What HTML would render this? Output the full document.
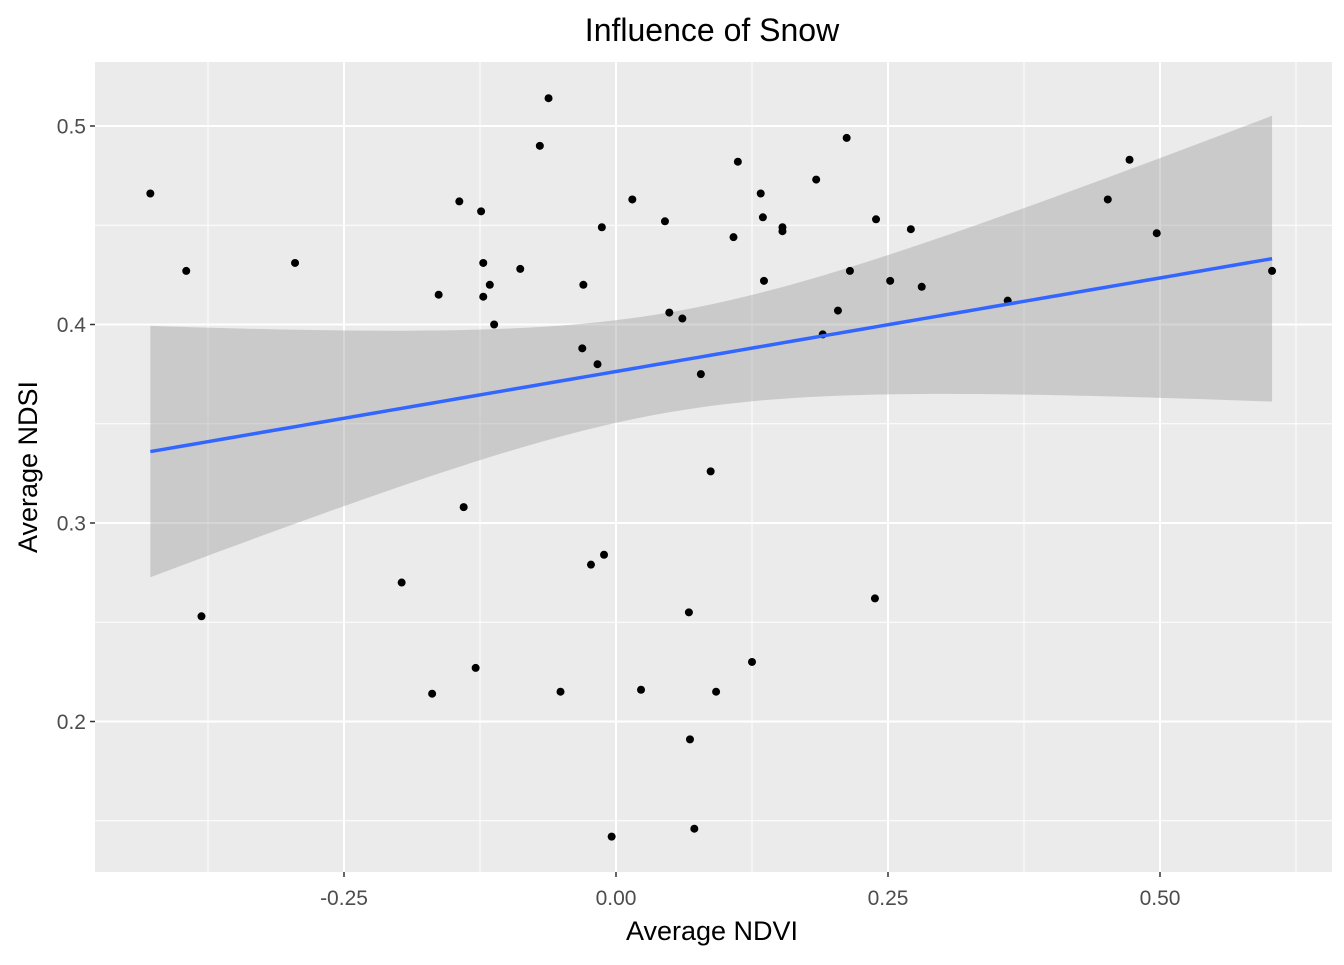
<!DOCTYPE html>
<html><head><meta charset="utf-8">
<style>
html,body{margin:0;padding:0;background:#fff;}
svg text{font-family:"Liberation Sans",Arial,sans-serif;}
</style></head>
<body>
<svg id="chart" width="1344" height="960" xmlns="http://www.w3.org/2000/svg"></svg>
<script>
const ndvi=[-0.428,-0.395,-0.381,-0.295,-0.197,-0.169,-0.163,-0.144,-0.140,-0.129,-0.124,-0.122,-0.122,-0.116,-0.112,-0.088,-0.070,-0.062,-0.051,-0.031,-0.030,-0.023,-0.017,-0.013,-0.011,-0.004,0.015,0.023,0.045,0.049,0.061,0.067,0.068,0.072,0.078,0.087,0.092,0.108,0.112,0.125,0.133,0.135,0.136,0.153,0.153,0.184,0.190,0.204,0.212,0.215,0.238,0.239,0.252,0.271,0.281,0.360,0.452,0.472,0.497,0.603];
const ndsi=[0.466,0.427,0.253,0.431,0.270,0.214,0.415,0.462,0.308,0.227,0.457,0.431,0.414,0.420,0.400,0.428,0.490,0.514,0.215,0.388,0.420,0.279,0.380,0.449,0.284,0.142,0.463,0.216,0.452,0.406,0.403,0.255,0.191,0.146,0.375,0.326,0.215,0.444,0.482,0.230,0.466,0.454,0.422,0.449,0.447,0.473,0.395,0.407,0.494,0.427,0.262,0.453,0.422,0.448,0.419,0.412,0.463,0.483,0.446,0.427];
const xTicks=[-0.25,0,0.25,0.5];
const xTickLabels=["-0.25","0.00","0.25","0.50"];
const xMinor=[-0.375,-0.125,0.125,0.375,0.625];
const yTicks=[0.2,0.3,0.4,0.5];
const yTickLabels=["0.2","0.3","0.4","0.5"];
const yMinor=[0.15,0.25,0.35,0.45];

const NS="http://www.w3.org/2000/svg";
const svg=document.getElementById('chart');
const P={l:95,r:1332,t:62,b:872};
const X=v=>616+v*1088;
const Y=v=>126+(0.5-v)*1985;
function el(tag,attrs,parent){const e=document.createElementNS(NS,tag);for(const k in attrs)e.setAttribute(k,attrs[k]);(parent||svg).appendChild(e);return e;}

const bg=el('rect',{x:P.l,y:P.t,width:P.r-P.l,height:P.b-P.t,fill:'#ebebeb'});



const grid=el('g',{});


xMinor.forEach(v=>{if(X(v)<P.r)el('line',{x1:X(v),x2:X(v),y1:P.t,y2:P.b,stroke:'#fff','stroke-width':1},grid);});
yMinor.forEach(v=>el('line',{x1:P.l,x2:P.r,y1:Y(v),y2:Y(v),stroke:'#fff','stroke-width':1},grid));
xTicks.forEach(v=>el('line',{x1:X(v),x2:X(v),y1:P.t,y2:P.b,stroke:'#fff','stroke-width':2},grid));
yTicks.forEach(v=>el('line',{x1:P.l,x2:P.r,y1:Y(v),y2:Y(v),stroke:'#fff','stroke-width':2},grid));

const n=ndvi.length;
const mx=ndvi.reduce((a,b)=>a+b,0)/n, my=ndsi.reduce((a,b)=>a+b,0)/n;
let sxx=0,sxy=0;for(let i=0;i<n;i++){sxx+=(ndvi[i]-mx)**2;sxy+=(ndvi[i]-mx)*(ndsi[i]-my);}
const b1=sxy/sxx,b0=my-b1*mx;
let sse=0;for(let i=0;i<n;i++)sse+=(ndsi[i]-b0-b1*ndvi[i])**2;
const s=Math.sqrt(sse/(n-2)),t=2.0;
const xmin=Math.min(...ndvi),xmax=Math.max(...ndvi);
const up=[],lo=[],ln=[];
for(let k=0;k<=80;k++){const x=xmin+(xmax-xmin)*k/80;const f=b0+b1*x;const se=s*Math.sqrt(1/n+(x-mx)**2/sxx);
up.push(X(x)+','+Y(f+t*se));lo.unshift(X(x)+','+Y(f-t*se));ln.push(X(x)+','+Y(f));}
const band=el('polygon',{points:up.concat(lo).join(' '),fill:'#999999','fill-opacity':0.4});



const pts=el('g',{});


for(let i=0;i<n;i++){const c=el('circle',{cx:X(ndvi[i]),cy:Y(ndsi[i]),r:4,fill:'#000'},pts);

}

const fit=el('polyline',{points:ln.join(' '),fill:'none',stroke:'#3366ff','stroke-width':3.5});



const xa=el('g',{});


xTicks.forEach((v,i)=>{el('line',{x1:X(v),x2:X(v),y1:P.b,y2:P.b+5,stroke:'#333','stroke-width':1.5},xa);
const tx=el('text',{x:X(v),y:905,'text-anchor':'middle','font-size':21,fill:'#4d4d4d'},xa);tx.textContent=xTickLabels[i];});
const ya=el('g',{});


yTicks.forEach((v,i)=>{el('line',{x1:P.l-5,x2:P.l,y1:Y(v),y2:Y(v),stroke:'#333','stroke-width':1.5},ya);
const tx=el('text',{x:86,y:Y(v)+7.5,'text-anchor':'end','font-size':21,fill:'#4d4d4d'},ya);tx.textContent=yTickLabels[i];});

const title=el('text',{x:712,y:41,'text-anchor':'middle','font-size':32,fill:'#000'});
title.textContent='Influence of Snow';


const xt=el('text',{x:712,y:940,'text-anchor':'middle','font-size':27,fill:'#000'});
xt.textContent='Average NDVI';


const yt=el('text',{x:0,y:0,'text-anchor':'middle','font-size':27,fill:'#000',transform:'translate(37,467) rotate(-90)'});
yt.textContent='Average NDSI';


</script>
</body></html>
